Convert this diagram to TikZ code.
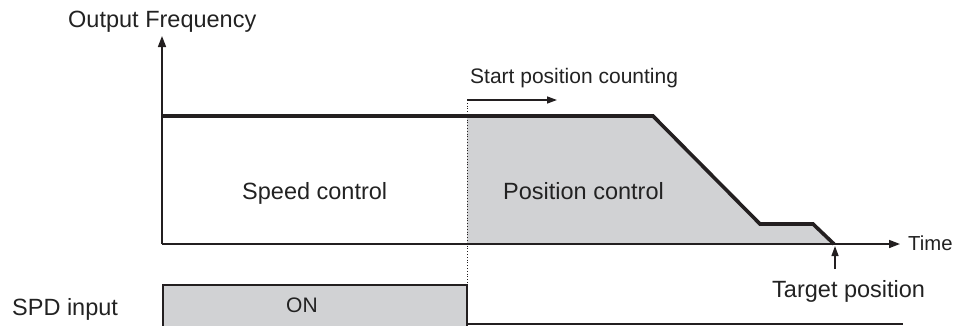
\documentclass[tikz,border=0pt]{standalone}
\usepackage{fontspec}
\setmainfont{Liberation Sans}
\usetikzlibrary{arrows.meta}
\definecolor{ink}{HTML}{231F20}
\definecolor{txt}{HTML}{222222}
\definecolor{greyfill}{HTML}{D1D2D4}
\tikzset{
  lbl/.style={anchor=base west, inner sep=0pt, text=txt, font=\fontsize{21}{25}\selectfont},
  biglbl/.style={lbl, font=\fontsize{23.5}{28}\selectfont},
  axisline/.style={draw=ink, line width=1.6pt, -{Triangle[length=11pt,width=8pt]}},
  thinarrow/.style={draw=ink, line width=1.4pt, -{Triangle[length=10pt,width=7pt]}},
  profile/.style={draw=ink, line width=3.6pt, line join=miter},
  frame/.style={draw=ink, line width=1.5pt},
  divider/.style={draw=ink, line width=0.8pt, dotted}
}
\begin{document}
\begin{tikzpicture}[x=1pt,y=-1pt]
\useasboundingbox (0,0) rectangle (965,325);
% key points
\coordinate (O) at (162,244);
\coordinate (ytop) at (162,36);
\coordinate (xend) at (900,244);
\coordinate (p0) at (162,116);
\coordinate (p1) at (467,116);
\coordinate (p2) at (653,116);
\coordinate (p3) at (760,224);
\coordinate (p4) at (813,224);
\coordinate (p5) at (834,244);
\coordinate (pb) at (467,244);
\coordinate (dtop) at (467,100);
\coordinate (dbot) at (467,285);
\coordinate (sarr) at (557,100);
\coordinate (tlow) at (835,269);
\coordinate (thigh) at (835,246);
\coordinate (onA) at (163,285);
\coordinate (onB) at (467,327);
\coordinate (bl) at (467,324);
\coordinate (br) at (903,324);
% shaded position-control area
\fill[greyfill] (p1) -- (p2) -- (p3) -- (p4) -- (p5) -- (pb) -- cycle;
% SPD ON box
\filldraw[fill=greyfill, frame] (onA) rectangle (onB);
\draw[frame] (bl) -- (br);
% divider
\draw[divider] (dtop) -- (dbot);
% axes
\draw[axisline] (O) -- (ytop);
\draw[axisline] (O) -- (xend);
% profile
\draw[profile] (p0) -- (p2) -- (p3) -- (p4) -- (p5);
% arrows
\draw[thinarrow] (dtop) -- (sarr);
\draw[thinarrow] (tlow) -- (thigh);
% labels
\node[biglbl] (lof) at (68,27) {Output Frequency};
\node[lbl] (lspc) at (470,83) {Start position counting};
\node[biglbl] (lsc) at (242,199) {Speed control};
\node[biglbl] (lpc) at (503,199) {Position control};
\node[lbl, font=\fontsize{20.3}{24}\selectfont] (ltime) at (908,250) {Time};
\node[biglbl] (ltp) at (772,297) {Target position};
\node[biglbl] (lspd) at (12,315) {SPD input};
\node[lbl] (lon) at (286,312) {ON};
\end{tikzpicture}
\end{document}
